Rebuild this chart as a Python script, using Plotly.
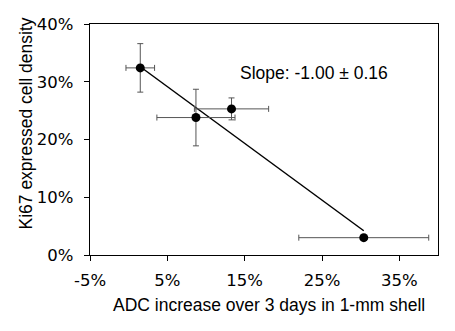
import plotly.graph_objects as go

# Data (percent)
adc_increase = [1.5, 8.7, 13.3, 30.4]
adc_err = [1.85, 5.05, 4.8, 8.4]
ki67_density = [32.4, 23.8, 25.3, 3.0]
ki67_err = [4.2, 4.9, 1.9, 0.4]

fit_x = [1.5, 30.4]
fit_y = [32.6, 4.2]

x_ticks = [-5, 5, 15, 25, 35]
x_tick_labels = ["-5%", "5%", "15%", "25%", "35%"]
y_ticks = [0, 10, 20, 30, 40]
y_tick_labels = ["0%", "10%", "20%", "30%", "40%"]

x_title = "ADC increase over 3 days in 1-mm shell"
y_title = "Ki67 expressed cell density"
slope_text = "Slope: -1.00 ± 0.16"

pl, pr, pt, pb = 90, 438, 24, 255
W, H = 455, 331


def px(xp):
    return (xp - pl) / (pr - pl)


def py(yp):
    return (pb - yp) / (pb - pt)


fig = go.Figure()
fig.add_trace(go.Scatter(
    x=fit_x, y=fit_y, mode="lines",
    line=dict(color="black", width=1.5),
    showlegend=False, hoverinfo="skip"))
fig.add_trace(go.Scatter(
    x=adc_increase, y=ki67_density, mode="markers",
    marker=dict(color="black", size=9),
    error_x=dict(type="data", array=adc_err, color="#555555", thickness=1, width=3),
    error_y=dict(type="data", array=ki67_err, color="#555555", thickness=1, width=3),
    showlegend=False))

titlefont = dict(family="Liberation Sans, Arial", size=17.5, color="black")
tickfont = dict(family="DejaVu Sans, Verdana", size=16.5, color="black")

fig.add_annotation(x=px(238), y=py(72.5), xref="paper", yref="paper", text=slope_text,
                   showarrow=False, xanchor="left", yanchor="middle", font=titlefont)
fig.add_annotation(x=px(268.5), y=py(305), xref="paper", yref="paper", text=x_title,
                   showarrow=False, xanchor="center", yanchor="middle", font=titlefont)
fig.add_annotation(x=px(25), y=py(123.5), xref="paper", yref="paper", text=y_title,
                   showarrow=False, xanchor="center", yanchor="middle", textangle=-90,
                   font=titlefont)

fig.update_layout(
    width=W, height=H,
    margin=dict(l=pl, r=W - pr, t=pt, b=H - pb, autoexpand=False),
    paper_bgcolor="white", plot_bgcolor="white",
    xaxis=dict(range=[-5, 40], tickvals=x_ticks, ticktext=x_tick_labels,
               showgrid=False, zeroline=False, showline=True, linecolor="black",
               linewidth=1.3, mirror=True, ticks="outside", ticklen=5,
               tickcolor="black", tickfont=tickfont, automargin=False,
               ticklabelstandoff=5),
    yaxis=dict(range=[0, 40], tickvals=y_ticks, ticktext=y_tick_labels,
               showgrid=False, zeroline=False, showline=True, linecolor="black",
               linewidth=1.3, mirror=True, ticks="outside", ticklen=5,
               tickcolor="black", tickfont=tickfont, automargin=False,
               ticklabelstandoff=7),
)

fig.write_html("out.html", config={"displayModeBar": False},
               post_script="document.body.style.margin='0';document.body.style.overflow='hidden';")
